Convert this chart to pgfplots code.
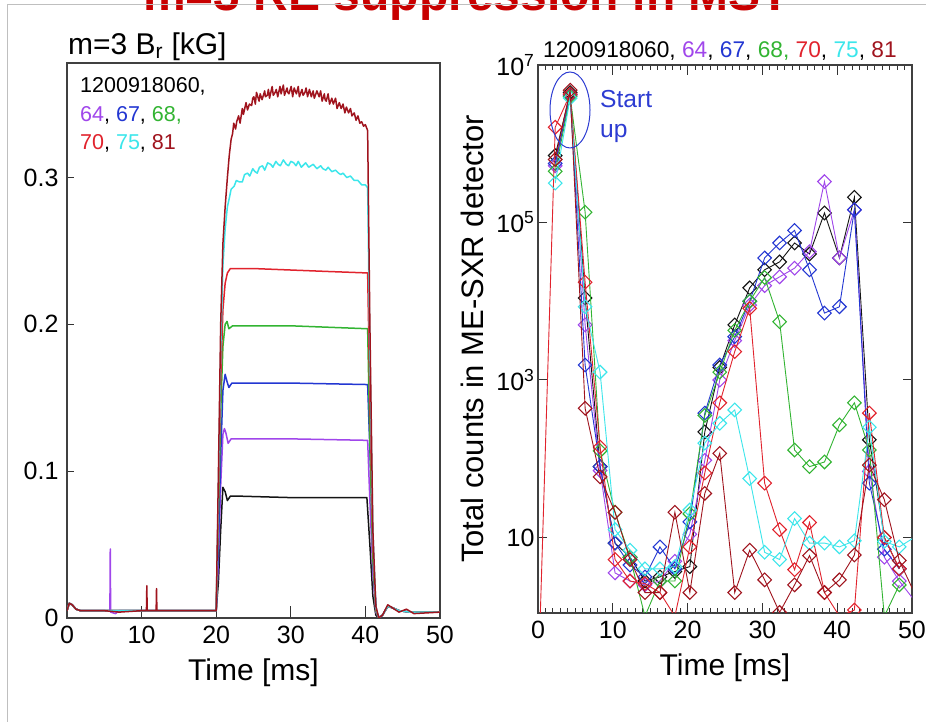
\documentclass[border=0pt]{standalone}
\usepackage{pgfplots}
\pgfplotsset{compat=1.18}
\usepackage{fontspec}
\setmainfont{Liberation Sans}
\definecolor{cblack}{RGB}{20,20,20}
\definecolor{cpurple}{RGB}{160,70,235}
\definecolor{cblue}{RGB}{35,55,210}
\definecolor{cgreen}{RGB}{50,180,50}
\definecolor{cred}{RGB}{225,35,45}
\definecolor{ccyan}{RGB}{60,230,235}
\definecolor{cdred}{RGB}{160,20,30}
\definecolor{ctitle}{RGB}{200,0,0}
\definecolor{cann}{RGB}{45,60,210}
\begin{document}
\begin{tikzpicture}[x=1pt,y=1pt]
\useasboundingbox (0,0) rectangle (926,722);
\fill[white] (0,0) rectangle (926,722);
\node[anchor=base west, text=ctitle, font=\fontsize{48}{48}\selectfont\bfseries, inner sep=0] at (143,711) {m=3 RE suppression in MST};
\draw[black!25, line width=1pt] (7,717) -- (926,717);
\draw[black!25, line width=1pt] (7,717) -- (7,0);

% ---------------- left panel ----------------
\begin{axis}[
  at={(67pt,104pt)}, anchor=south west, scale only axis,
  width=373pt, height=555pt,
  xmin=0, xmax=50, ymin=0, ymax=0.378,
  xtick={0,10,...,50}, ytick={0,0.1,0.2,0.3},
  tick pos=left, tick align=inside,
  xtick style={/pgfplots/major tick length=12pt, line width=1pt, black!80},
  ytick style={/pgfplots/major tick length=7pt, line width=1pt, black!80},
  axis line style={line width=1.2pt, black!75},
  /pgf/number format/assume math mode=true,
  tick label style={font=\fontsize{25}{25}\selectfont},
  xticklabel style={yshift=-5pt},
  yticklabel style={xshift=-5pt},
  xlabel={Time [ms]},
  xlabel style={font=\fontsize{30}{30}\selectfont, yshift=-8pt},
  every axis plot/.append style={line width=1.5pt, no markers, line join=round},
]
% black 60
\addplot[cblack] coordinates {(0,0.005)(0.3,0.010)(0.7,0.009)(1.2,0.006)(1.8,0.005)(5,0.005)(10,0.005)(15,0.005)(20,0.005)
 (20.3,0.025)(20.6,0.06)(20.9,0.089)(21.2,0.086)(21.5,0.080)(21.9,0.083)(23,0.083)(30,0.082)(40.2,0.082)
 (40.6,0.05)(41.0,0.015)(41.4,0.002)(41.8,0.000)(42.3,0.002)(43.0,0.008)(43.6,0.007)(44.5,0.005)(46,0.004)(50,0.004)};
% purple 64
\addplot[cpurple] coordinates {(0,0.005)(0.3,0.010)(0.7,0.009)(1.2,0.006)(1.8,0.005)(5,0.005)(5.75,0.005)(5.8,0.047)(5.85,0.004)(6.5,0.003)(7,0.005)(10,0.005)(15,0.005)(20,0.005)
 (20.3,0.04)(20.6,0.09)(20.9,0.125)(21.1,0.129)(21.3,0.126)(21.6,0.119)(22.0,0.122)(30,0.122)(40.3,0.121)
 (40.6,0.08)(41.0,0.03)(41.4,0.004)(41.8,0.000)(42.3,0.002)(43.0,0.008)(43.6,0.007)(44.5,0.005)(46,0.004)(50,0.004)};
% blue 67
\addplot[cblue] coordinates {(0,0.005)(0.3,0.010)(0.7,0.009)(1.2,0.006)(1.8,0.005)(5,0.005)(10,0.005)(15,0.005)(20,0.005)
 (20.3,0.05)(20.6,0.11)(20.9,0.155)(21.2,0.166)(21.45,0.161)(21.7,0.157)(22.1,0.160)(30,0.160)(40.3,0.159)
 (40.7,0.10)(41.1,0.03)(41.5,0.004)(41.9,0.000)(42.3,0.002)(43.0,0.008)(43.6,0.007)(44.5,0.005)(46,0.004)(50,0.004)};
% green 68
\addplot[cgreen] coordinates {(0,0.005)(0.3,0.010)(0.7,0.009)(1.2,0.006)(1.8,0.005)(5,0.005)(10,0.005)(15,0.005)(20,0.005)
 (20.3,0.07)(20.6,0.14)(20.9,0.185)(21.2,0.200)(21.45,0.202)(21.7,0.197)(22.2,0.199)(30,0.199)(40.3,0.197)
 (40.6,0.12)(41.0,0.04)(41.4,0.005)(41.8,0.000)(42.3,0.002)(43.0,0.008)(43.6,0.007)(44.5,0.005)(46,0.004)(50,0.004)};
% red 70
\addplot[cred] coordinates {(0,0.005)(0.3,0.010)(0.7,0.009)(1.2,0.006)(1.8,0.005)(5,0.005)(10,0.005)(15,0.005)(20,0.005)
 (20.3,0.08)(20.6,0.16)(20.9,0.21)(21.2,0.228)(21.5,0.235)(21.9,0.238)(25,0.238)(30,0.237)(35,0.236)(40.3,0.235)
 (40.6,0.15)(41.0,0.05)(41.4,0.006)(41.8,0.000)(42.3,0.002)(43.0,0.008)(43.6,0.007)(44.5,0.005)(46,0.004)(50,0.004)};
% cyan 75
\addplot[ccyan] coordinates {(0,0.005)(0.3,0.010)(0.7,0.009)(1.2,0.006)(1.8,0.005)(5,0.005)(10,0.005)(15,0.005)(20,0.005)
 (20.3,0.09)(20.6,0.18)(20.9,0.24)(21.2,0.265)(21.5,0.280)(21.8,0.287)(22.0,0.292)(22.4,0.294)(22.7,0.298)(23.1,0.297)(23.5,0.297)(23.8,0.302)(24.2,0.303)
 (24.5,0.301)(24.9,0.306)(25.2,0.304)(25.5,0.303)(25.8,0.307)(26.2,0.308)(26.5,0.305)(26.9,0.310)(27.3,0.309)(27.6,0.307)(28.0,0.311)(28.3,0.309)(28.6,0.308)(29.0,0.312)
 (29.4,0.309)(29.7,0.308)(30.0,0.311)(30.4,0.310)(30.7,0.308)(31.0,0.311)(31.4,0.307)(31.8,0.309)(32.0,0.310)(32.4,0.307)(32.7,0.308)(33.0,0.309)(33.5,0.306)(34.0,0.308)
 (34.3,0.306)(34.7,0.305)(35.0,0.307)(35.5,0.304)(36.0,0.305)(36.4,0.303)(36.7,0.302)(37.0,0.303)(37.5,0.300)(38.0,0.301)(38.5,0.298)(39.0,0.298)
 (39.5,0.295)(40.0,0.295)(40.3,0.293)
 (40.6,0.18)(41.0,0.06)(41.4,0.007)(41.8,0.000)(42.3,0.002)(43.0,0.008)(43.6,0.007)(44.5,0.005)(46,0.004)(50,0.004)};
% dark red 81
\addplot[cdred] coordinates {(0,0.005)(0.3,0.010)(0.7,0.009)(1.2,0.006)(1.8,0.005)(5,0.005)(7,0.004)(10,0.005)
 (10.65,0.005)(10.7,0.022)(10.75,0.005)(11.95,0.005)(12.0,0.020)(12.05,0.005)(15,0.005)(20,0.005)
 (20.3,0.10)(20.6,0.20)(20.9,0.255)(21.2,0.28)(21.5,0.300)(21.75,0.315)(22.00,0.326)(22.2,0.330)(22.35,0.337)(22.6,0.333)(22.75,0.338)
 (23.00,0.342)(23.2,0.337)(23.50,0.347)(23.65,0.343)(24.00,0.351)(24.2,0.346)(24.45,0.350)(24.75,0.349)(24.9,0.354)
 (25.05,0.355)(25.25,0.350)(25.40,0.358)(25.75,0.352)(25.9,0.357)(26.15,0.353)(26.50,0.359)(26.6,0.355)(26.85,0.356)
 (27.00,0.360)(27.15,0.354)(27.50,0.362)(27.65,0.356)(27.9,0.358)(28.05,0.360)(28.25,0.355)(28.55,0.362)(28.7,0.357)
 (29.00,0.363)(29.15,0.356)(29.50,0.361)(29.6,0.358)(29.75,0.357)(30.05,0.362)(30.25,0.355)(30.45,0.361)(30.75,0.357)
 (31.00,0.362)(31.15,0.355)(31.50,0.360)(31.65,0.356)(31.9,0.358)(32.05,0.361)(32.25,0.355)(32.50,0.360)(32.75,0.355)
 (33.00,0.359)(33.15,0.354)(33.50,0.359)(33.8,0.355)(34.00,0.359)(34.2,0.352)(34.50,0.357)(34.6,0.353)(34.75,0.352)
 (35.00,0.357)(35.2,0.350)(35.50,0.354)(35.7,0.350)(36.00,0.354)(36.2,0.347)(36.50,0.351)(36.75,0.347)
 (37.00,0.350)(37.25,0.344)(37.45,0.348)(37.75,0.344)(38.00,0.347)(38.2,0.342)(38.50,0.344)(38.75,0.339)
 (39.00,0.342)(39.25,0.337)(39.50,0.338)(39.75,0.335)(40.00,0.336)(40.3,0.332)
 (40.6,0.20)(41.0,0.06)(41.4,0.008)(41.8,0.000)(42.3,0.002)(43.0,0.009)(43.6,0.007)(44.5,0.004)(45.5,0.006)(46.5,0.003)(50,0.004)};
\end{axis}
\node[anchor=base west, inner sep=0, font=\fontsize{30}{30}\selectfont] at (68,667) {m=3 B\textsubscript{r} [kG]};
\node[anchor=base west, inner sep=0, font=\fontsize{21.5}{21.5}\selectfont] at (80,629) {1200918060,};
\node[anchor=base west, inner sep=0, font=\fontsize{21.5}{21.5}\selectfont] at (80,600) {\textcolor{cpurple}{64}, \textcolor{cblue}{67}, \textcolor{cgreen}{68,}};
\node[anchor=base west, inner sep=0, font=\fontsize{21.5}{21.5}\selectfont] at (80,572) {\textcolor{cred}{70}, \textcolor{ccyan}{75}, \textcolor{cdred}{81}};

% ---------------- right panel ----------------
\begin{axis}[
  at={(538pt,109pt)}, anchor=south west, scale only axis,
  width=374pt, height=548pt,
  xmin=0, xmax=50, ymode=log, ymin=1.1, ymax=1e7,
  xtick={0,10,...,50}, minor x tick num=9,
  ytick={10,1000,100000,10000000},
  yticklabels={10,10\textsuperscript{3},10\textsuperscript{5},10\textsuperscript{7}},
  yminorticks=false,
  tick align=inside,
  xtick style={/pgfplots/major tick length=10pt, /pgfplots/minor tick length=5pt, line width=1pt, black!80},
  ytick style={/pgfplots/major tick length=9pt, line width=1pt, black!80},
  axis line style={line width=1.2pt, black!75},
  /pgf/number format/assume math mode=true,
  tick label style={font=\fontsize{25}{25}\selectfont},
  xticklabel style={yshift=-5pt},
  xlabel={Time [ms]},
  xlabel style={font=\fontsize{30}{30}\selectfont, yshift=-8pt},
  ylabel={Total counts in ME-SXR detector},
  ylabel style={font=\fontsize{31}{31}\selectfont, yshift=6pt},
  clip marker paths=true,
  every axis plot/.append style={line width=0.9pt, mark=square, mark size=4.8pt,
     mark options={rotate=45, solid, line width=1.1pt, fill=none}},
]
\addplot[cblack] coordinates {(2.3,7.08e5)(4.3,4.47e6)(6.3,1.1e4)(8.3,79.4)(10.3,8.5)(12.3,5.62)(14.3,2.8)(16.3,3.16)(18.3,3.7)(20.3,4.27)(22.3,219)(24.3,1445)(26.3,5012)(28.3,1.48e4)(30.3,2.51e4)(32.3,3.16e4)(34.3,5.5e4)(36.3,3.98e4)(38.3,1.32e5)(40.3,3.55e4)(42.3,2.09e5)(44.3,174)(46.3,10)(48.3,4)};
\addplot[cpurple] coordinates {(2.3,5.25e5)(4.3,4.17e6)(6.3,5012)(8.3,70.8)(10.3,3.55)(12.3,2.8)(14.3,2.5)(16.3,2.8)(18.3,5.0)(20.3,11)(22.3,95.5)(24.3,1000)(26.3,3162)(28.3,8913)(30.3,1.58e4)(32.3,2.04e4)(34.3,2.63e4)(36.3,4.27e4)(38.3,3.31e5)(40.3,3.55e4)(42.3,1.45e5)(44.3,69)(46.3,5.62)(48.3,2.8)(50.3,1.6)};
\addplot[cblue] coordinates {(2.3,5.62e5)(4.3,4.17e6)(6.3,1549)(8.3,79.4)(10.3,8.5)(12.3,4.47)(14.3,3.16)(16.3,7.6)(18.3,4.0)(20.3,15.8)(22.3,380)(24.3,1549)(26.3,3548)(28.3,1e4)(30.3,3.55e4)(32.3,5.5e4)(34.3,7.94e4)(36.3,2.51e4)(38.3,7079)(40.3,8511)(42.3,1.45e5)(44.3,49)(46.3,7.1)(48.3,4)};
\addplot[cgreen] coordinates {(2.3,4.47e5)(4.3,3.98e6)(6.3,1.35e5)(8.3,126)(10.3,20.9)(12.3,5.62)(14.3,1)(16.3,2.8)(18.3,2.8)(20.3,20)(22.3,355)(24.3,1259)(26.3,4266)(28.3,1e4)(30.3,2.0e4)(32.3,5495)(34.3,129)(36.3,79.4)(38.3,91)(40.3,269)(42.3,513)(44.3,129)(46.3,1)(48.3,2.5)};
\addplot[cred] coordinates {(0.3,1)(2.3,1.62e6)(4.3,4.27e6)(6.3,1.74e4)(8.3,141)(10.3,5.25)(12.3,2.8)(14.3,2.6)(16.3,2.0)(18.3,1)(20.3,7.6)(22.3,66)(24.3,513)(26.3,2291)(28.3,8128)(30.3,49)(32.3,12.6)(34.3,3.9)(36.3,15.5)(38.3,2.0)(40.3,1)(42.3,1.2)(44.3,380)(46.3,10)(48.3,4)};
\addplot[ccyan] coordinates {(2.3,3.16e5)(4.3,3.8e6)(6.3,8511)(8.3,1259)(10.3,12.6)(12.3,6.9)(14.3,4)(16.3,4)(18.3,4.27)(20.3,22.4)(22.3,158)(24.3,282)(26.3,417)(28.3,56)(30.3,6.5)(32.3,5.25)(34.3,17.4)(36.3,8.5)(38.3,8.5)(40.3,7.6)(42.3,9.1)(44.3,251)(46.3,8.9)(48.3,7.6)(50.3,10)};
\addplot[cdred] coordinates {(2.3,6.31e5)(4.3,4.79e6)(6.3,437)(8.3,58.9)(10.3,20.9)(12.3,5.25)(14.3,2.0)(16.3,2.0)(18.3,20.9)(20.3,2.0)(22.3,36.3)(24.3,117)(26.3,2.0)(28.3,6.9)(30.3,2.9)(32.3,1.12)(34.3,2.5)(36.3,5.9)(38.3,2.0)(40.3,2.9)(42.3,6)(44.3,83)(46.3,30.2)(48.3,5.1)(50.3,2)};
\end{axis}
\node[anchor=base west, inner sep=0, font=\fontsize{22.7}{22.7}\selectfont] at (543,664) {1200918060, \textcolor{cpurple}{64}, \textcolor{cblue}{67}, \textcolor{cgreen}{68,} \textcolor{cred}{70}, \textcolor{ccyan}{75}, \textcolor{cdred}{81}};
\draw[cann, line width=1pt] (570,612) ellipse [x radius=20, y radius=38];
\node[anchor=base west, inner sep=0, text=cann, font=\fontsize{24.6}{24.6}\selectfont] at (600,614) {Start};
\node[anchor=base west, inner sep=0, text=cann, font=\fontsize{24.6}{24.6}\selectfont] at (600,584) {up};
\end{tikzpicture}
\end{document}
